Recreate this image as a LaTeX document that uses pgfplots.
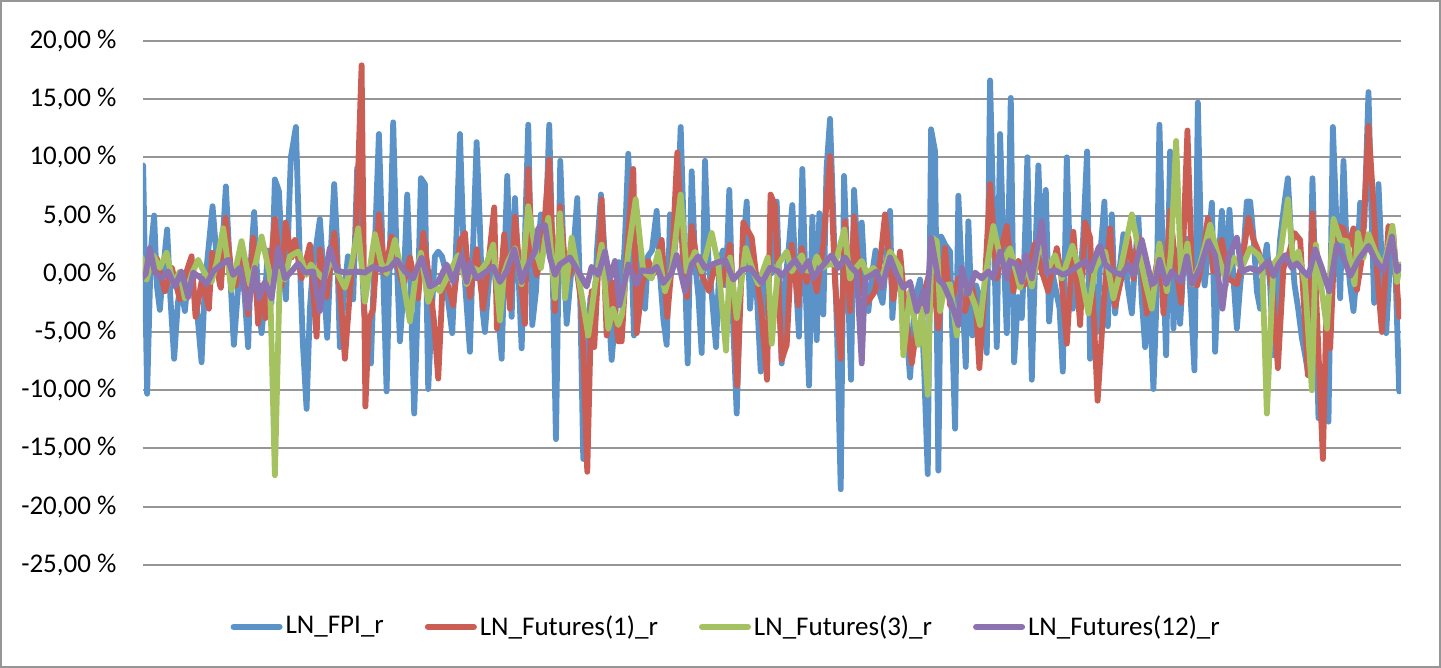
\documentclass[border=0pt]{standalone}
\usepackage{pgfplots}
\usepackage{pgfplotstable}
\pgfplotsset{compat=1.18}
\usepackage{fontspec}
\setmainfont{Carlito}
\definecolor{cblue}{HTML}{5B93C9}
\definecolor{cred}{HTML}{CB5E54}
\definecolor{cgreen}{HTML}{A5C260}
\definecolor{cpurple}{HTML}{8D72B0}
\definecolor{cgrid}{HTML}{969696}

\pgfplotstableread{
x y
143.3 9.3
147.3 -10.3
151 2
154.3 5.0
157 -1
160 -3.1
163.5 0.5
167.3 3.8
170.5 -2
174.3 -7.3
178 -2.5
181 -1
185 -3.2
189 0.3
193 -1.2
197 -3.0
201.7 -7.6
205 -1.0
209 2.5
212.7 5.8
216 2.2
220 -1
223 3
226 7.5
230 0.5
234 -6.1
238 -1.5
241 2.5
244.5 -1.5
248.3 -6.3
251 1.0
254.3 5.3
258 -1.5
261.7 -5.1
265 -2
268 2
271.5 -2.5
275 8.1
279 7.1
282.5 1
286 -2.2
291 10
296 12.6
300 1.0
303 -6
306.7 -11.6
310 -3
313 0.5
316.5 2.5
320 4.7
324 -0.5
327.3 -5.5
331 2
334.3 7.7
337 3
340 -6.3
344 -2.0
348 1.5
350.5 -1.5
353.3 -2.2
357.3 9.1
361 4
364 -3
367.5 -5.5
371 -7.7
375 2.5
379 12
383 1
386.7 -10.1
390 2
393.3 13
396.5 2
400 -5.8
403.5 -1.5
407.3 6.8
411 -2
414.3 -12
418 -2
421 8.2
425 7.7
428.3 -9.9
432 -3
435 1.5
438.3 1.9
442 1.5
445 0.5
448.5 -2.5
452.3 -5.1
456 2
460 12
464.5 0
470 -6.7
473 2
476.7 11.3
480 4
482.5 -3
485 -5
488.5 -1
492 3
495 0
498 -3
501.7 -7.3
504.5 1
507.3 8.4
511.7 -3.7
515 6.5
518 1
521.7 -6.4
525 3
528.3 12.8
532.3 -4.4
536 -1.5
538.5 2.5
541 5.1
545 2
549.3 12.8
552.5 1
556 -14.2
560.3 9.7
563.5 2
566.7 -4.3
570 -1
573.5 2
577.3 6.5
580.5 -3
583.3 -15.9
587 -8
590.5 -2
594 -4
597 2
601 6.8
604.5 2
608 -2
611.7 -7.4
615 -4
619 1
622 -2
625 3
628.3 10.3
631.5 2
634 -5.3
637.5 -1
641 2
645 -3
648 1.5
652 2
656.7 5.4
660 0
663.5 -4
666.7 -6.1
670 5.1
673.5 1
677 4
680.7 12.6
684 3
687.7 -7.7
691.7 8.8
695 1
698.5 -2
701.7 -6.8
705 9.7
708.5 1
712 -2
716 -6.3
719.5 1
723 2
726 -1
729.3 7.2
733 -4
736.7 -12
740 -2
743 2
746.7 6.2
750 -3
753.5 1
757 -2
760.7 -8.4
764 -1
767.5 1
771 0
774 3
776.7 6.2
781.7 -7.7
785 -1
788.5 2
792.3 5.9
795.5 0
799 -5.4
802.3 9.0
805.5 -1
809 -9.6
812.3 4.9
816.7 -5.7
819.3 5.2
823.3 -3.5
826.5 9
830 13.3
834 3
837 -5
840.7 -18.5
844 8.4
847.5 0
851 -9.1
854 7.2
858 1
861.7 4.4
865 -1
868.3 -3.2
872 0
875.5 2
879 -1.5
882.5 -2.5
886 1
890 5.4
892.3 -3.8
896 1
899.5 -1
903 -2.5
906.5 -5
910 -8.9
913.5 -4
917 -1.5
920 -0.5
924 -8
927.7 -17.2
931 12.4
935 10.5
938.3 -16.9
941 3.2
945 2.5
950 1.9
952.5 -6
955 -13.3
958.3 6.7
962 -1
965.7 -8
968.3 4.5
972.3 -5.3
976 -1
979.5 -2
983 -3.5
986.7 -6.8
990 16.6
993.5 4
996.7 -6.3
1000 12
1003.5 2
1006.7 -5.1
1010.7 15.1
1014 -7.6
1018 -2
1021.7 -3.8
1024.5 2
1027.3 10
1031.7 -9.1
1035 1
1038.3 9.3
1042 0
1045.7 7.2
1049 -4.1
1052.5 0
1056 -1.5
1059.5 -3
1062.7 -8.4
1066.7 10
1069.5 2
1072.7 -3
1076 1
1079.5 -1
1083 3
1087 10.5
1090 -7.3
1093.5 -1
1097 -5
1100.5 2
1104.3 6.2
1107.7 -4.5
1111.7 5.1
1115 -3.4
1119 0
1123.3 3.4
1127.5 -1
1131.7 -3.4
1135 1
1138.3 4.8
1141.5 -2
1145 -6.3
1149 -1
1153.3 -9.9
1156.5 -2
1159.3 12.8
1162.5 2
1166 -7
1170 10.5
1173.3 -4.7
1177 2
1180 -4.3
1183.5 1
1187 3
1190.5 -2
1194.3 -8.3
1197.7 14.7
1201 2
1204.5 -1
1208 2
1211.7 6.1
1215 -6.7
1218.5 1
1221.7 5.4
1225.5 -1
1229.3 5.5
1233 0
1236.7 -4.7
1240 -1
1243.5 2
1246.7 6.2
1250 6.2
1253.5 3
1256.7 -1.5
1260 -3
1263 0.5
1266.7 2.5
1270 -1
1273.3 -7
1277 -1
1280 3
1283.3 5.4
1287.7 8.2
1291 3
1294.3 -0.9
1298 -3
1301.7 -5.5
1305 -7
1308.3 -8.7
1312.3 8.2
1315.5 -2
1318.3 -12.4
1323 -10
1328.3 -12.7
1332.7 12.6
1336 5
1340 -2.1
1343.3 9.7
1346.5 2
1350 -1
1353.3 -3.2
1356.5 0
1360 6.1
1364 4
1368.3 15.6
1371 6
1374 -2.5
1378.3 7.7
1382 0
1386 -5.1
1388.5 -1
1391.7 4.1
1395 1
1399 -10.1
}\fpi

\pgfplotstableread{
x y
143 0.2
150 1.0
157 1.3
165 -1.5
172 0.5
180 -2.2
186 0.0
191.7 1.5
195.7 -3.7
202 -0.5
209 -3
212.3 1.8
217 0.5
221 -1.2
225.7 4.8
231 0.5
236 -1.0
241 1.5
248.3 -3.5
253.3 3.1
258.3 -4.3
262 -1.0
265.7 -3.8
270 0.0
275 4.7
281.7 -1.1
285.7 4.4
291.7 1.4
295 2.9
301.7 -0.4
310 2.5
316.7 -5.4
320 2.1
326.7 -2
334.3 3.5
340 -1.5
345 -7.3
351.7 0.3
356 3.0
361.7 17.9
365.5 -11.4
369 -4.0
373.3 -3
379 5.1
385 0
391.7 3.2
397 1.0
403.3 -1
410 1.4
418.3 -2.1
423.3 3.5
430 -1
434 -4.0
438.3 -9
443.3 0.2
448 -1.0
453.3 -2.7
460 2.8
465 3.5
470 -2
476.7 2.1
483.3 -3
488 0.5
494.3 5.7
497 -4.7
504.3 3.4
510 -3
515 4.9
520 0.0
525 -4.3
528.3 9
532 2.0
536.7 -0.1
542 1.5
549.3 9.8
555 -3.2
560 5.8
566.7 -0.7
575 1.4
581.7 -2.7
587.3 -17
591.7 -1.5
594.3 -6.3
601.7 6.4
606.7 -5.3
611.7 -0.7
618.3 -5.8
621.7 -5.8
627 2.0
633.3 9
636.7 -5.1
642 -1.0
648.3 1.1
654 0.0
661.7 2.9
667.3 -3.7
672 1.0
677.3 10.4
683.3 0.8
687 -2.0
691.7 4.1
697 1.0
703.3 -0.4
709 -1.5
715 0.8
722 -1.0
730 2.5
733 -1.0
737.3 -9.6
743.3 4.4
751.7 3.1
756 0.0
760.7 -2.7
767 -9.1
770.5 6.8
775 5.9
781.7 -7.4
786.7 -6.1
791.7 2.5
798.3 -2.7
801.7 2.2
806.7 -0.7
811.7 0.5
816.7 -1.5
823.3 2.5
830 10.1
835 -0.7
840.7 -7.3
845 4.5
850 -3.2
854 4.9
860 -0.9
867 -2.5
875 -1.5
880 1.0
885 5.1
893.3 -2.2
900 1.9
905 -3.0
911.7 -7.7
916 -5.0
921.7 -4.4
926 -1.0
931.7 0.8
938.3 -4.7
945 2.2
950 -2.7
958.3 -0.4
965 -3.2
971.7 -1
976 -3.0
979.3 -8.1
984 -2.0
990 7.7
996.7 -0.4
1001 2.0
1006.7 4.1
1013.3 -1.5
1018.3 1.1
1024 -1.0
1029 0.5
1035 2.6
1041.7 0.2
1048 -1.5
1056.7 2.2
1061 0.0
1066.7 -6
1073.3 3.6
1080 -4.4
1085 4.4
1090 3.1
1097.5 -10.9
1104 -2.0
1110 3.9
1115 -2.8
1121 -0.5
1128.3 3.1
1133.3 -0.4
1138.3 3.1
1146.7 -3.4
1153 -1.0
1160 2.6
1163.3 -3.4
1170 5.4
1175 1.0
1181 -2.5
1187.3 12.3
1191.7 0.3
1197 -1.0
1202 1.0
1207.7 4.8
1213.3 0.2
1221.7 2.9
1228.3 -0.4
1236.7 -0.9
1242 1.0
1248.3 4.8
1253 3.0
1258.3 1.9
1261.7 0.8
1268 1.0
1273 -2.0
1277.7 -8.1
1283.3 0.5
1288 1.5
1294.3 3.5
1300 2.9
1304 -3.0
1307.7 -8.7
1312.3 5.2
1317 -4.0
1322.7 -15.9
1326 -4.0
1330 -6.4
1335 4.2
1343.3 3.9
1347.7 2.2
1353.3 3.9
1356.7 -1.4
1362 1.5
1368.3 12.7
1373.3 5.9
1377 0.0
1381.7 -5
1388.3 4.1
1393 3.5
1399 -3.7
}\futa

\pgfplotstableread{
x y
141.7 1.4
146.7 -0.5
153.3 1.6
160 0.5
166.7 1.8
173.3 -0.9
180 0.2
185 -2.1
192 0.0
198.3 1.2
205 0.0
211.7 -0.7
217 1.0
223.3 3.9
231.7 -1.4
236 0.5
241.7 2.8
250 -0.9
256 1.0
261.7 3.2
270 -0.1
275 -17.3
280 0.2
285 -0.5
290 1.5
298.3 1.9
300 1.6
306.7 -0.1
311 0.8
316.7 0.2
324 -0.5
331.7 1.4
338 0.0
345 -1.2
351 0.5
358.3 3.9
365 -2.4
370 0.5
375 3.4
381 1.0
386.7 0
395 2.9
402 0.0
410 -4.1
416 0.0
421 1.8
428.3 -2.4
434 -1.0
440 -1.5
449 0.0
458.3 1.6
466.7 -0.9
473 0.5
480 0.2
487 1.0
493.3 2.5
500 -4
504 0.0
508.3 1.1
515 2.2
521.7 -0.9
528.3 5.8
535 2.2
541 0.5
548.3 4.8
555 -2.1
560 5.2
565 -2.1
571.7 3.1
577 0.5
582 -2.0
588.3 -5.3
595 -1.0
601.7 2.5
608.3 -4.7
613 -3.0
618.3 -4.4
622 -3.5
628.3 1.9
635.7 6.4
643.3 0.2
651.7 -0.4
658.3 1.9
665 -1.5
672 0.5
680.7 6.8
686.7 0.2
695 1.9
701.7 0.2
711.7 3.5
718.3 0.8
726 -6.6
730 1.4
736.7 -3.8
745.7 2.2
752 0.5
758.3 -0.9
767.7 1.4
771.7 -6
778.3 0.8
786.7 1.9
791.7 0.2
801.7 1.6
806 0.3
811.7 0.2
816.7 1.5
822 0.5
828.3 0.8
835 0.8
844.3 3.8
850 -0.4
856 0.5
861.7 1.1
867 0.0
873.3 0.5
881.7 -0.4
890 1.9
900 0.5
903.3 -7
910 -1.5
918.3 -6.1
922 -3.0
927.7 -10.4
931.7 3.1
936.7 2.8
940 -3.2
945 -1.0
950 -0.9
956.7 -5.3
961.7 -0.4
968.3 -1.2
975 -2.7
980 -4.4
985 -0.4
993.3 4.1
1001.7 0.8
1010 2.2
1020 -1.2
1026.7 0.8
1031.7 -1.1
1040 2.8
1048.3 0.5
1055 1.6
1061.7 -0.4
1072.3 2.4
1081.7 -0.4
1088.3 -3.4
1095 0.5
1105 1.9
1113.3 -2.1
1118 -0.5
1123.3 1.6
1131.7 5.1
1140 1.4
1146 -1.0
1151.7 -3
1159.3 2.6
1166.7 -1.5
1171 2.0
1176 11.4
1181 -0.4
1187.3 2.6
1191.7 -0.9
1200 0.8
1210 4.2
1216.7 1.9
1225 -0.4
1233.3 1.4
1241.7 0.5
1250 2.2
1258.3 1.6
1262 1.0
1266.7 -12
1273.3 0.8
1280 1.6
1287.7 6.4
1293.3 0.8
1298.3 1.9
1305 -0.9
1311.7 -10
1315.7 2.5
1321.7 -1.5
1326.7 -4.7
1333.3 4.7
1340 2.9
1346.7 2.8
1354.3 -0.9
1357.7 3.5
1363.3 1.4
1368.3 3.4
1375 1.9
1383.3 0.5
1392.3 4.1
1396.7 -0.7
1400 0.8
}\futb

\pgfplotstableread{
x y
141.7 -0.4
146 0.0
150 2.2
155 0.1
161.7 -0.4
168.3 0.2
175 -1.1
181.7 0.2
188.3 -2
193.3 0.1
201.7 -0.4
206.7 -0.9
213.3 0.2
221.7 0.8
228.3 1.2
233.3 -0.1
240 0.5
248.3 -3
255 0.5
259 -2.1
265 -0.7
271.7 -2.1
278.3 2.2
285 -0.4
291.7 0.2
298.3 0.9
305 0.1
313.3 0.2
320 -3.2
325 -0.1
330 2.2
336.7 0.3
345 0.1
356.7 0.2
365 0.1
373.3 0.6
381.7 0.3
390 0.5
396.7 1.2
405 0.2
413.3 -0.4
421.7 1.4
430 -1.1
438.3 -0.7
446.7 0.8
453.3 -0.7
461.7 1.6
466.7 -0.7
470 0.9
476.7 -0.4
485 0.1
493.3 0.6
500 -0.7
506.7 0.2
514.3 2.1
521.7 -0.7
526.7 0.5
535 1.9
538.3 3.9
545 4.2
550 1.4
555 -0.1
560 0.8
570 1.4
578.3 0.2
586.7 -1.1
591.7 0.6
598.3 -0.1
605 1.9
610 -0.4
615 1.1
619.5 -2.7
628.3 0.8
636.7 -0.9
641.7 0.3
651.7 0.2
656.7 0.6
663.3 -0.8
671.7 0.1
676.7 1.6
685 -1.5
691.7 0.8
698.3 1.5
705 0.5
715 0.9
725 1.2
733.3 -0.5
741.7 0.3
750 0.5
761.7 -0.8
770 0.5
778.3 0.2
781.7 -0.2
788.3 0.5
795 1.2
801.7 0.2
808.3 1.1
813.3 -0.4
821.7 0.6
831.7 1.6
838.3 0.5
845 1.4
851.7 0.5
856.7 0.1
861.7 -7.7
865 -0.4
871.7 -0.1
876.7 0.2
881.7 -1.2
890 1.4
896.7 -0.1
903.3 -1.2
910 -0.7
916.7 -3.2
923.3 -1.5
926.7 -3.2
931 3.1
938.3 -0.5
943.3 -0.9
950 -2.2
958.3 -4.4
961.7 0.5
968.3 -1.7
975 0.1
981.7 -0.4
988.3 0.2
993.3 -0.4
1000 1.9
1006.7 -0.4
1010 1.1
1016.7 0.8
1021.7 -0.7
1025.7 1.6
1031.7 -0.4
1041.7 4.5
1046.7 0.1
1055 0.3
1063.3 -0.1
1071.7 0.3
1080 0.8
1085 1.1
1090 0.2
1098.3 2.2
1100 2.4
1105 0.8
1115 0.1
1121.7 -0.1
1128.3 0.8
1133.3 -0.1
1141.7 2.9
1151.7 -0.9
1155 -0.7
1159.3 1.2
1166 -0.9
1171.7 0.2
1181 -0.7
1186.7 1.5
1191.7 -0.9
1200 0.5
1208.3 2.8
1215 1.6
1222.3 -3
1228.3 1.4
1236.7 3.1
1241.7 0.2
1250 0.5
1258.3 0.2
1268.3 1.1
1273.3 -0.2
1278.3 0.8
1285 1.6
1291.7 0.5
1296.7 0.9
1303.3 0.2
1308.3 -0.2
1315 2.1
1321.7 0.5
1329 -1.5
1336.7 2.5
1343.3 1.4
1350 -0.2
1358.3 1.2
1368.3 2.4
1375 1.2
1383.3 0.2
1391.7 3.2
1396.7 0.2
1400 0.6
}\futc

\begin{document}
\begin{tikzpicture}
\begin{axis}[
  scale only axis,
  width=629pt, height=262pt,
  xmin=143, xmax=1401,
  ymin=-25, ymax=20,
  axis line style={draw=none},
  xtick=\empty,
  ytick={-25,-20,-15,-10,-5,0,5,10,15,20},
  yticklabels={{-25,00 \%},{-20,00 \%},{-15,00 \%},{-10,00 \%},{-5,00 \%},{0,00 \%},{5,00 \%},{10,00 \%},{15,00 \%},{20,00 \%}},
  major tick length=0pt,
  ymajorgrids,
  grid style={cgrid, line width=1pt},
  yticklabel style={font=\fontsize{13.5}{16}\selectfont, inner sep=0pt, anchor=east, xshift=-13pt},
  every axis plot/.append style={line width=2.9pt, line join=round, line cap=round, no markers},
  legend columns=4,
  legend style={draw=none, fill=none, at={(0.464,-0.118)}, anchor=center,
    font=\fontsize{13.5}{16}\selectfont,
    nodes={inner xsep=1.5pt},
    /tikz/every even column/.append style={column sep=19pt},
    /tikz/every odd column/.append style={column sep=0pt}},
  legend image code/.code={\draw[#1, line width=3pt, line cap=round] (0pt,0pt) -- (23pt,0pt);},
]
\addplot[cblue] table[x=x,y=y] {\fpi};
\addlegendentry{LN\_FPI\_r}
\addplot[cred] table[x=x,y=y] {\futa};
\addlegendentry{LN\_Futures(1)\_r}
\addplot[cgreen] table[x=x,y=y] {\futb};
\addlegendentry{LN\_Futures(3)\_r}
\addplot[cpurple] table[x=x,y=y] {\futc};
\addlegendentry{LN\_Futures(12)\_r}
\end{axis}
\draw[cgrid, line width=0.8pt] (-71pt,-51pt) rectangle (648.5pt,282pt);
\end{tikzpicture}
\end{document}
